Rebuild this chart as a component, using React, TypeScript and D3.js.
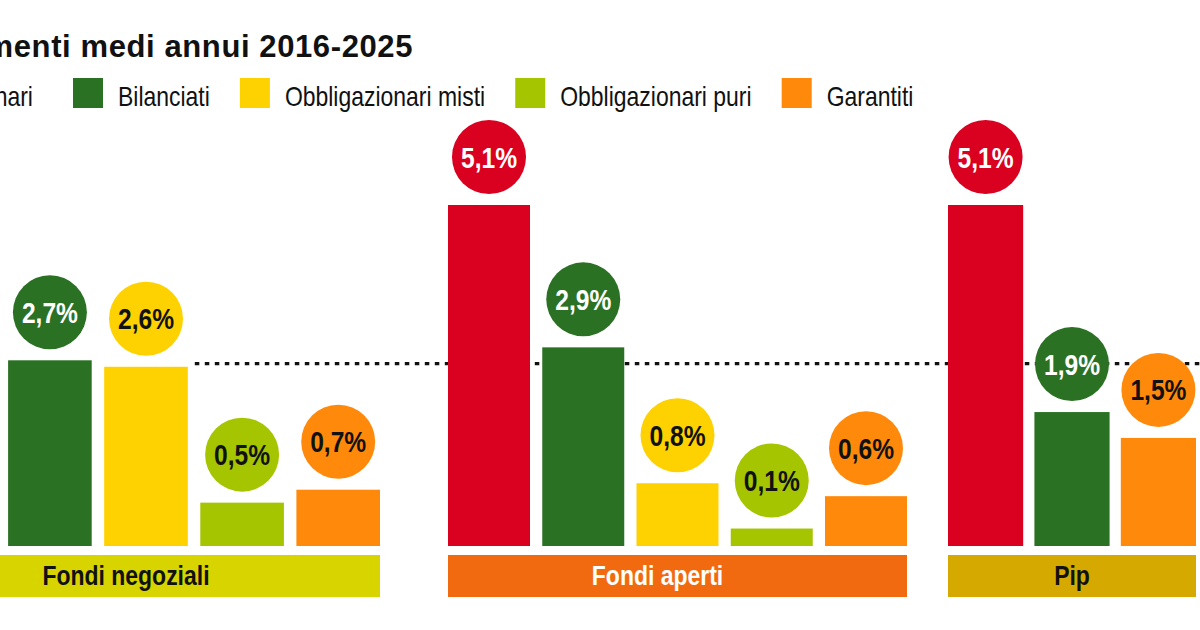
import React, { useRef, useEffect } from 'react';
import * as d3 from 'd3';

// categorie di fondo (legenda e colori)
const categories = ['Azionari', 'Bilanciati', 'Obbligazionari misti', 'Obbligazionari puri', 'Garantiti'];
const categoryColors = ['#da0020', '#2b7124', '#fed200', '#a5c500', '#ff890a'];
const darkText = ['Obbligazionari misti', 'Obbligazionari puri', 'Garantiti'];

// rendimenti medi annui per tipologia di forma pensionistica (%)
const negozialiCategories = categories;
const negozialiValues = [null, 2.7, 2.6, 0.5, 0.7];
const apertiCategories = categories;
const apertiValues = [5.1, 2.9, 0.8, 0.1, 0.6];
const pipCategories = ['Azionari', 'Bilanciati', 'Garantiti'];
const pipValues = [5.1, 1.9, 1.5];

const groupNames = ['Fondi negoziali', 'Fondi aperti', 'Pip'];
const groupColors = ['#d7d400', '#f26a10', '#d6a900'];
const groupTextColors = ['#111', '#fff', '#111'];

// linea tratteggiata di riferimento
const referenceValue = 2.65;

const title = 'Rendimenti medi annui 2016-2025';

// font "condensato": Liberation Sans stretto in orizzontale
const FONT = '"Liberation Sans", Arial, sans-serif';
const NARROW = 0.82;

export default function App() {
  const ref = useRef<SVGSVGElement>(null);

  useEffect(() => {
    if (!ref.current) return;
    const width = 1200, height = 630;
    const svg = d3.select(ref.current);
    svg.selectAll('*').remove();

    svg.append('rect').attr('width', width).attr('height', height).attr('fill', '#fff');

    const baseline = 546;
    const y = d3.scaleLinear().domain([-0.17, 5.1]).range([baseline, 205]);

    const groups = [
      { name: groupNames[0], cats: negozialiCategories, values: negozialiValues, range: [-88, 380] },
      { name: groupNames[1], cats: apertiCategories, values: apertiValues, range: [448, 907] },
      { name: groupNames[2], cats: pipCategories, values: pipValues, range: [948, 1196] },
    ];
    const color = d3.scaleOrdinal<string, string>().domain(categories).range(categoryColors);

    const scales = groups.map((g) =>
      d3.scaleBand().domain(g.cats).range(g.range as [number, number]).paddingInner(0.13).paddingOuter(0)
    );

    // linea di riferimento, sotto le barre
    const x0 = scales[0];
    svg
      .append('line')
      .attr('x1', (x0('Obbligazionari misti') as number) + x0.bandwidth() + 7)
      .attr('x2', width)
      .attr('y1', y(referenceValue))
      .attr('y2', y(referenceValue))
      .attr('stroke', '#111')
      .attr('stroke-width', 3.2)
      .attr('stroke-dasharray', '4.5 5.5');

    groups.forEach((g, gi) => {
      const x = scales[gi];
      const data = g.cats
        .map((c, i) => ({ cat: c, value: g.values[i] }))
        .filter((d) => d.value !== null) as { cat: string; value: number }[];

      const grp = svg.append('g');

      grp
        .selectAll('rect.bar')
        .data(data)
        .enter()
        .append('rect')
        .attr('class', 'bar')
        .attr('x', (d) => x(d.cat) as number)
        .attr('width', x.bandwidth())
        .attr('y', (d) => y(d.value))
        .attr('height', (d) => baseline - y(d.value))
        .attr('fill', (d) => color(d.cat));

      const bubbles = grp
        .selectAll('g.bubble')
        .data(data)
        .enter()
        .append('g')
        .attr('class', 'bubble')
        .attr(
          'transform',
          (d) => `translate(${(x(d.cat) as number) + x.bandwidth() / 2},${y(d.value) - 48})`
        );

      bubbles.append('circle').attr('r', 37).attr('fill', (d) => color(d.cat));

      bubbles
        .append('text')
        .attr('text-anchor', 'middle')
        .attr('transform', `translate(0,10.5) scale(${NARROW},1)`)
        .style('font-family', FONT)
        .style('font-weight', 700)
        .style('font-size', '30px')
        .attr('fill', (d) => (darkText.includes(d.cat) ? '#111' : '#fff'))
        .text((d) => d3.format('.1f')(d.value).replace('.', ',') + '%');

      // fascia con il nome del gruppo
      const [r0, r1] = g.range;
      grp
        .append('rect')
        .attr('x', r0)
        .attr('y', 555)
        .attr('width', r1 - r0)
        .attr('height', 42)
        .attr('fill', groupColors[gi]);

      const cx = (r0 + r1) / 2 - (g.cats.length > 3 ? 20 : 0);
      grp
        .append('text')
        .attr('text-anchor', 'middle')
        .attr('transform', `translate(${cx},585) scale(${NARROW},1)`)
        .style('font-family', FONT)
        .style('font-weight', 700)
        .style('font-size', '28px')
        .attr('fill', groupTextColors[gi])
        .text(g.name);
    });

    // titolo
    svg
      .append('text')
      .attr('x', 413)
      .attr('y', 57)
      .attr('text-anchor', 'end')
      .style('font-family', FONT)
      .style('font-weight', 700)
      .style('font-size', '31px')
      .style('letter-spacing', '0.6px')
      .attr('fill', '#111')
      .text(title);

    // legenda
    const legend = svg.append('g');
    const swatch = 30;
    let cursor = 73;
    categories.forEach((c, i) => {
      const item = legend.append('g');
      const t = item
        .append('text')
        .style('font-family', FONT)
        .style('font-size', '28px')
        .attr('fill', '#111')
        .text(c);
      const w = (t.node() as SVGTextElement).getComputedTextLength() * NARROW;
      let sx: number;
      if (i === 0) {
        // prima voce allineata a destra, prima di "Bilanciati"
        sx = cursor - 40 - w - 15 - swatch;
      } else {
        sx = cursor;
        cursor += swatch + 15 + w + 30;
      }
      item
        .append('rect')
        .attr('x', sx)
        .attr('y', 78)
        .attr('width', swatch)
        .attr('height', swatch)
        .attr('fill', categoryColors[i]);
      t.attr('transform', `translate(${sx + swatch + 15},106) scale(${NARROW},1)`);
    });
  }, []);

  return (
    <svg
      ref={ref}
      width={1200}
      height={630}
      style={{ position: 'absolute', left: 0, top: 0, display: 'block' }}
    />
  );
}
